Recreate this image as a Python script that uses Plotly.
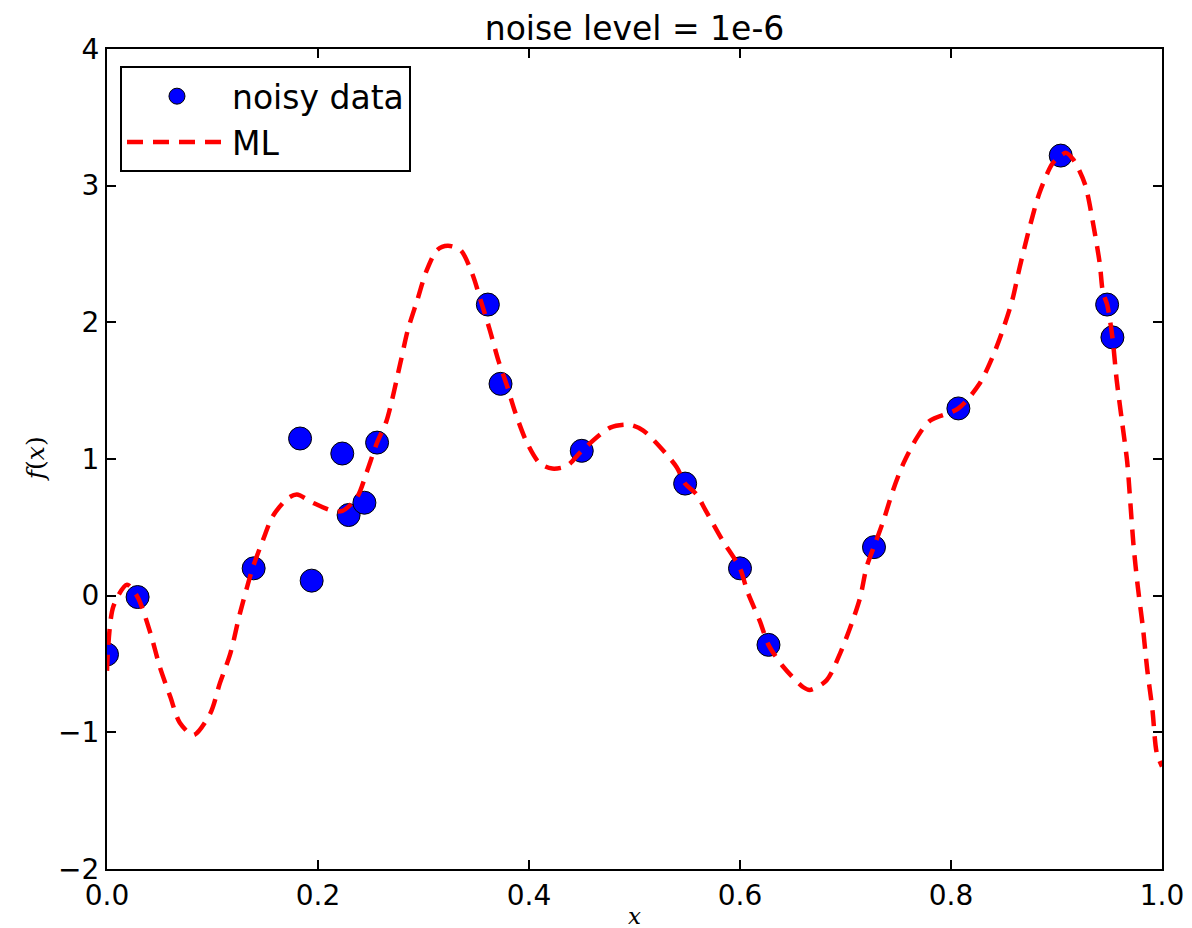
import plotly.graph_objects as go

# noisy data points
data_x = [0.000, 0.029, 0.139, 0.183, 0.194, 0.223, 0.229, 0.244, 0.256, 0.361,
          0.373, 0.450, 0.548, 0.600, 0.627, 0.727, 0.807, 0.904, 0.948, 0.953]
data_y = [-0.43, -0.01, 0.20, 1.15, 0.11, 1.04, 0.59, 0.68, 1.12, 2.13,
          1.55, 1.06, 0.82, 0.20, -0.36, 0.355, 1.37, 3.22, 2.13, 1.89]

# ML curve
ml_x = [0.000, 0.006, 0.019, 0.029, 0.041, 0.050, 0.060, 0.069, 0.082, 0.098,
        0.107, 0.117, 0.126, 0.138, 0.148, 0.157, 0.171, 0.180, 0.195, 0.214,
        0.223, 0.237, 0.246, 0.256, 0.265, 0.278, 0.285, 0.294, 0.303, 0.313,
        0.323, 0.335, 0.346, 0.355, 0.363, 0.371, 0.379, 0.387, 0.398, 0.410,
        0.422, 0.436, 0.450, 0.477, 0.496, 0.508, 0.524, 0.540, 0.548, 0.559,
        0.567, 0.583, 0.600, 0.607, 0.619, 0.627, 0.641, 0.660, 0.666, 0.682,
        0.695, 0.706, 0.714, 0.720, 0.727, 0.736, 0.745, 0.755, 0.768, 0.780,
        0.807, 0.827, 0.839, 0.848, 0.858, 0.865, 0.875, 0.884, 0.896, 0.904,
        0.909, 0.916, 0.927, 0.935, 0.941, 0.944, 0.948, 0.953, 0.957, 0.962,
        0.967, 0.970, 0.973, 0.977, 0.982, 0.986, 0.991, 0.995, 1.000]
ml_y = [-0.55, -0.08, 0.08, -0.01, -0.27, -0.52, -0.74, -0.93, -1.02, -0.86,
        -0.64, -0.42, -0.13, 0.20, 0.41, 0.58, 0.71, 0.74, 0.68, 0.62,
        0.62, 0.72, 0.90, 1.12, 1.28, 1.70, 1.94, 2.16, 2.38, 2.53,
        2.56, 2.53, 2.36, 2.14, 1.94, 1.72, 1.54, 1.34, 1.12, 0.97,
        0.93, 0.95, 1.06, 1.23, 1.25, 1.21, 1.09, 0.94, 0.82, 0.74,
        0.63, 0.41, 0.20, 0.03, -0.19, -0.36, -0.52, -0.67, -0.69, -0.62,
        -0.42, -0.20, -0.01, 0.21, 0.36, 0.55, 0.77, 0.97, 1.16, 1.28,
        1.37, 1.55, 1.74, 1.92, 2.16, 2.40, 2.71, 2.95, 3.16, 3.22,
        3.24, 3.19, 3.01, 2.71, 2.43, 2.22, 2.13, 1.89, 1.58, 1.28,
        0.98, 0.68, 0.37, 0.07, -0.24, -0.54, -0.84, -1.15, -1.25]

x_ticks = [0.0, 0.2, 0.4, 0.6, 0.8, 1.0]
y_ticks = [-2, -1, 0, 1, 2, 3, 4]

fig = go.Figure()
fig.add_trace(go.Scatter(
    x=data_x, y=data_y, mode="markers", name="noisy data",
    marker=dict(size=23, color="#0000ff", line=dict(color="black", width=1)),
))
fig.add_trace(go.Scatter(
    x=ml_x, y=ml_y, mode="lines", name="ML",
    line=dict(color="#ff0000", width=4.5, dash="16px,10px", shape="spline", smoothing=0.8),
))

axis_common = dict(
    showline=True, linecolor="black", linewidth=2, mirror="ticks",
    ticks="inside", ticklen=9, tickwidth=1.5, tickcolor="black",
    showgrid=False, zeroline=False, automargin=False,
    tickfont=dict(family="DejaVu Sans", size=28, color="black"),
)

fig.update_layout(
    width=1192, height=928,
    margin=dict(l=99, r=38, t=41, b=67),
    paper_bgcolor="white", plot_bgcolor="white",
    title=dict(text="noise level = 1e-6", x=0.5, xanchor="center", y=0.9784, yanchor="middle",
               xref="paper",
               font=dict(family="DejaVu Sans", size=33, color="black")),
    xaxis=dict(range=[0, 1], tickvals=x_ticks, tickformat=".1f", **axis_common),
    yaxis=dict(range=[-2, 4], tickvals=y_ticks, **axis_common),
    legend=dict(x=0.0123, y=0.979, xanchor="left", yanchor="top",
                bgcolor="white", bordercolor="black", borderwidth=2,
                font=dict(family="DejaVu Sans", size=33, color="black"),
                itemwidth=100),
    showlegend=True,
    annotations=[
        dict(text="<i>x</i>", xref="paper", yref="paper", x=0.5, y=-0.057,
             xanchor="center", yanchor="middle", showarrow=False,
             font=dict(family="DejaVu Serif", size=23, color="black")),
        dict(text="<i>f</i>(<i>x</i>)", xref="paper", yref="paper", x=-0.068, y=0.5,
             xanchor="center", yanchor="middle", showarrow=False, textangle=-90,
             font=dict(family="DejaVu Serif", size=25, color="black")),
    ],
)

fig.write_html("out.html")
